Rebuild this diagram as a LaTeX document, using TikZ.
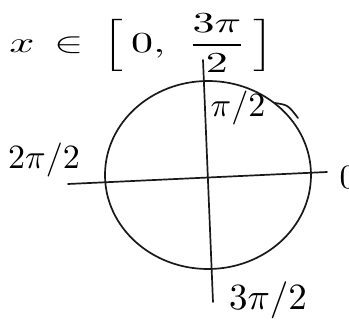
\documentclass[tikz,border=0pt]{standalone}
\usepackage{amsmath}
\usepackage{graphicx}
\usetikzlibrary{calc,positioning}
\newcommand{\bigtxt}[2][3.4]{\scalebox{#1}{#2}}
\tikzset{
  % tratto a mano
  pen/.style={line width=1.7pt, black!90, line cap=round},
  % assi del cerchio
  axis/.style={pen},
  % etichette degli angoli
  lbl/.style={inner sep=0pt},
}
\begin{document}
\begin{tikzpicture}[x=1pt, y=-1pt]
  \useasboundingbox (0,0) rectangle (349,329);
  % cerchio trigonometrico
  \coordinate (c) at (208,175);
  \draw[pen] (c) ellipse [x radius=103, y radius=94];
  % assi
  \coordinate (xl) at (68,184);
  \coordinate (xr) at (327,172);
  \coordinate (yt) at (203,60);
  \coordinate (yb) at (213,302);
  \draw[axis] (xl) -- (xr);
  \draw[axis] (yt) -- (yb);
  % verso di percorrenza
  \coordinate (v1) at (275,103);
  \coordinate (v2) at (298,118);
  \draw[pen] (v1) .. controls (288,105) .. (v2);
  % etichette
  \node[lbl] (dom) at (142,43) {\scalebox{4.4}[2.9]{$x\,\in\,\Bigl[\,0,\ \dfrac{3\pi}{2}\,\Bigr]$}};
  \node[lbl] (top) at (238,108) {\bigtxt{$\pi/2$}};
  \node[lbl] (left) at (44,160) {\bigtxt{$2\pi/2$}};
  \node[lbl] (right) at (348,178) {\bigtxt{$0$}};
  \node[lbl] (bot) at (268,300) {\bigtxt[3.7]{$3\pi/2$}};
\end{tikzpicture}
\end{document}
